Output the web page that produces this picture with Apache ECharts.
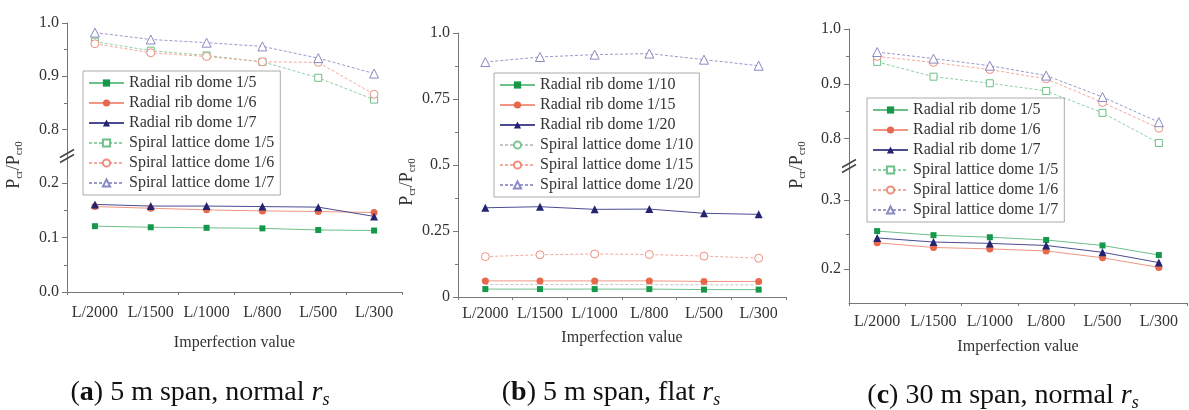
<!DOCTYPE html>
<html>
<head>
<meta charset="utf-8">
<script src="https://cdn.jsdelivr.net/npm/echarts@6/dist/echarts.min.js"></script>
<style>
  html, body { margin: 0; padding: 0; background: #fff; }
  #main { width: 1189px; height: 410px; }
</style>
</head>
<body>
<div id="main"></div>
<script>
var FONT = '"Liberation Serif", "Times New Roman", serif'

var cats = ['L/2000', 'L/1500', 'L/1000', 'L/800', 'L/500', 'L/300']

// (a) 5 m span, normal rs
var aRadial5 = [0.121, 0.119, 0.118, 0.117, 0.114, 0.113]
var aRadial6 = [0.157, 0.154, 0.151, 0.149, 0.148, 0.146]
var aRadial7 = [0.161, 0.158, 0.158, 0.157, 0.156, 0.139]
var aSpiral5 = [0.965, 0.948, 0.939, 0.927, 0.897, 0.856]
var aSpiral6 = [0.961, 0.944, 0.937, 0.927, 0.926, 0.866]
var aSpiral7 = [0.982, 0.969, 0.963, 0.956, 0.934, 0.905]

// (b) 5 m span, flat rs
var bRadial10 = [0.030, 0.030, 0.030, 0.030, 0.028, 0.028]
var bRadial15 = [0.061, 0.061, 0.061, 0.061, 0.059, 0.059]
var bRadial20 = [0.338, 0.342, 0.332, 0.333, 0.317, 0.313]
var bSpiral10 = [0.047, 0.047, 0.047, 0.047, 0.046, 0.046]
var bSpiral15 = [0.153, 0.160, 0.163, 0.161, 0.155, 0.147]
var bSpiral20 = [0.890, 0.909, 0.918, 0.922, 0.899, 0.876]

// (c) 30 m span, normal rs
var cRadial5 = [0.255, 0.249, 0.246, 0.242, 0.234, 0.220]
var cRadial6 = [0.238, 0.231, 0.229, 0.226, 0.216, 0.202]
var cRadial7 = [0.245, 0.239, 0.237, 0.234, 0.224, 0.209]
var cSpiral5 = [0.940, 0.913, 0.901, 0.887, 0.847, 0.792]
var cSpiral6 = [0.950, 0.939, 0.926, 0.909, 0.866, 0.819]
var cSpiral7 = [0.958, 0.946, 0.933, 0.915, 0.876, 0.830]

// tick values (major / minor)
var aTopTicks = [0.8, 0.9, 1.0]
var aTopMinor = [0.85, 0.95]
var aBotTicks = [0, 0.1, 0.2]
var aBotMinor = [0.05, 0.15]
var bTicks = [0, 0.25, 0.5, 0.75, 1]
var bMinor = [0.125, 0.375, 0.625, 0.875]
var cTopTicks = [0.8, 0.9, 1.0]
var cTopMinor = [0.85, 0.95]
var cBotTicks = [0.2, 0.3]
var cBotMinor = [0.25]

var AXIS = '#777'
var TXT = '#333'

// marker / line looks (hollow = white fill with thin coloured edge)
var looks = {
  r1: { symbol: 'rect', size: 6, color: '#16984a', line: '#6cc08a', type: 'solid' },
  r2: { symbol: 'circle', size: 7, color: '#e8684c', line: '#f09682', type: 'solid' },
  r3: { symbol: 'triangle', size: 8, color: '#232370', line: '#4b4b92', type: 'solid' },
  s1: { symbol: 'rect', size: 7, color: '#6cbf88', line: '#8fd0a5', type: [3, 2], hollow: true },
  s2: { symbol: 'circle', size: 8, color: '#ee8f7e', line: '#f4aa9c', type: [3, 2], hollow: true },
  s3: { symbol: 'triangle', size: 9, color: '#8a8ac2', line: '#9a9acb', type: [3, 2], hollow: true }
}
var looksB = {
  r1: looks.r1, r2: looks.r2, r3: looks.r3,
  s1: { symbol: 'circle', size: 7, color: '#7cc596', line: '#bfc9c1', type: [3, 2], hollow: true, hide: true },
  s2: looks.s2, s3: looks.s3
}

function line(name, data, xi, yi, lk) {
  var item = lk.hollow
    ? { color: '#fff', borderColor: lk.color, borderWidth: 1 }
    : { color: lk.color }
  return {
    name: name, type: 'line', data: data, xAxisIndex: xi, yAxisIndex: yi,
    symbol: lk.symbol, symbolSize: lk.size, showSymbol: !lk.hide,
    itemStyle: item,
    lineStyle: { color: lk.line, width: 1, type: lk.type },
    emphasis: { disabled: true }, animation: false
  }
}

function catAxis(gi, show, margin, gap) {
  return {
    type: 'category', gridIndex: gi, data: cats, boundaryGap: true, show: show,
    axisLine: { lineStyle: { color: AXIS } },
    axisTick: { alignWithLabel: true, length: 5, lineStyle: { color: AXIS } },
    axisLabel: { interval: 0, margin: margin, fontFamily: FONT, fontSize: 16, color: TXT },
    name: 'Imperfection value', nameLocation: 'middle', nameGap: gap,
    nameTextStyle: { fontFamily: FONT, fontSize: 16, color: TXT }
  }
}
function catMinor(gi) {
  return {
    type: 'category', gridIndex: gi, data: cats, boundaryGap: true, position: 'bottom', offset: 0,
    axisLine: { show: false }, axisLabel: { show: false },
    axisTick: { show: true, interval: 0, length: 3, lineStyle: { color: AXIS } }
  }
}
function valAxis(gi, min, max, ticks, fmt) {
  return {
    type: 'value', gridIndex: gi, min: min, max: max, position: 'left', offset: 0,
    axisLine: { show: true, lineStyle: { color: AXIS } },
    axisTick: { show: true, length: 5, customValues: ticks, lineStyle: { color: AXIS } },
    axisLabel: { customValues: ticks, formatter: fmt, margin: 8, fontFamily: FONT, fontSize: 16, color: TXT },
    splitLine: { show: false }
  }
}
function valMinor(gi, min, max, ticks) {
  return {
    type: 'value', gridIndex: gi, min: min, max: max, position: 'left', offset: 0,
    axisLine: { show: false }, axisLabel: { show: false }, splitLine: { show: false },
    axisTick: { show: true, length: 3, customValues: ticks, lineStyle: { color: AXIS } }
  }
}
var fmt1 = function (v) { return v.toFixed(1) }
var fmtB = function (v) { return v === 1 ? '1.0' : String(v) }

var grids = [
  { left: 67, top: 23, width: 335, height: 133 },   // a upper
  { left: 67, top: 156, width: 335, height: 136 },  // a lower
  { left: 458, top: 33, width: 328, height: 264 },  // b
  { left: 849, top: 29, width: 338, height: 137 },  // c upper
  { left: 849, top: 166, width: 338, height: 137 }  // c lower
]
grids.forEach(function (g) { g.containLabel = false; g.outerBoundsMode = 'none' })

var namesA = ['Radial rib dome 1/5', 'Radial rib dome 1/6', 'Radial rib dome 1/7',
  'Spiral lattice dome 1/5', 'Spiral lattice dome 1/6', 'Spiral lattice dome 1/7']
var namesB = ['Radial rib dome 1/10', 'Radial rib dome 1/15', 'Radial rib dome 1/20',
  'Spiral lattice dome 1/10', 'Spiral lattice dome 1/15', 'Spiral lattice dome 1/20']

var series = [
  line(namesA[0], aRadial5, 1, 2, looks.r1),
  line(namesA[1], aRadial6, 1, 2, looks.r2),
  line(namesA[2], aRadial7, 1, 2, looks.r3),
  line(namesA[3], aSpiral5, 0, 0, looks.s1),
  line(namesA[4], aSpiral6, 0, 0, looks.s2),
  line(namesA[5], aSpiral7, 0, 0, looks.s3),

  line(namesB[0], bRadial10, 3, 4, looksB.r1),
  line(namesB[1], bRadial15, 3, 4, looksB.r2),
  line(namesB[2], bRadial20, 3, 4, looksB.r3),
  line(namesB[3], bSpiral10, 3, 4, looksB.s1),
  line(namesB[4], bSpiral15, 3, 4, looksB.s2),
  line(namesB[5], bSpiral20, 3, 4, looksB.s3),

  line(namesA[0], cRadial5, 6, 8, looks.r1),
  line(namesA[1], cRadial6, 6, 8, looks.r2),
  line(namesA[2], cRadial7, 6, 8, looks.r3),
  line(namesA[3], cSpiral5, 5, 6, looks.s1),
  line(namesA[4], cSpiral6, 5, 6, looks.s2),
  line(namesA[5], cSpiral7, 5, 6, looks.s3)
]

function legendAt(names, left, top) {
  return {
    data: names, left: left, top: top, orient: 'vertical',
    itemWidth: 35, itemHeight: 9, itemGap: 4, padding: [4, 6, 4, 5],
    borderColor: '#aaa', borderWidth: 1, selectedMode: false,
    textStyle: { fontFamily: FONT, fontSize: 16, lineHeight: 16, color: TXT }
  }
}

// y-axis titles and captions
function yTitle(x, y) {
  return {
    type: 'text', x: x, y: y, rotation: Math.PI / 2,
    style: {
      text: '{p|P}{s|cr}{p|/P}{s|cr0}', align: 'center', verticalAlign: 'middle',
      rich: {
        p: { fontFamily: FONT, fontSize: 18, lineHeight: 22, fill: TXT },
        s: { fontFamily: FONT, fontSize: 11, lineHeight: 11, verticalAlign: 'bottom', fill: TXT }
      }
    }
  }
}
function caption(x, y, letter, body) {
  var base = { fontFamily: FONT, fontSize: 28, lineHeight: 32, fill: '#111' }
  return {
    type: 'text', x: x, y: y,
    style: {
      text: '{n|(}{b|' + letter + '}{n|) ' + body + ' }{i|r}{u|s}', align: 'center', verticalAlign: 'middle',
      rich: {
        n: base,
        b: Object.assign({}, base, { fontWeight: 'bold' }),
        i: Object.assign({}, base, { fontStyle: 'italic' }),
        u: { fontFamily: FONT, fontSize: 18, lineHeight: 24, fontStyle: 'italic', verticalAlign: 'bottom', fill: '#111' }
      }
    }
  }
}
// break mark "//" on a broken axis, placed at the join of two grids
function breakMark(g) {
  var x = g.left, y = g.top
  return [-2.5, 2.5].map(function (d) {
    return {
      type: 'line', shape: { x1: x - 7, y1: y + d + 4, x2: x + 7, y2: y + d - 4 },
      style: { stroke: '#444', lineWidth: 1.5 }, z: 100
    }
  })
}

var option = {
  backgroundColor: '#fff',
  animation: false,
  grid: grids,
  xAxis: [
    catAxis(0, false, 13, 43),
    catAxis(1, true, 13, 43), catMinor(1),
    catAxis(2, true, 9, 33), catMinor(2),
    catAxis(3, false, 11, 36),
    catAxis(4, true, 11, 36), catMinor(4)
  ],
  yAxis: [
    valAxis(0, 0.75, 1.0, aTopTicks, fmt1), valMinor(0, 0.75, 1.0, aTopMinor),
    valAxis(1, 0, 0.25, aBotTicks, fmt1), valMinor(1, 0, 0.25, aBotMinor),
    valAxis(2, 0, 1, bTicks, fmtB), valMinor(2, 0, 1, bMinor),
    valAxis(3, 0.75, 1.0, cTopTicks, fmt1), valMinor(3, 0.75, 1.0, cTopMinor),
    valAxis(4, 0.15, 0.35, cBotTicks, fmt1), valMinor(4, 0.15, 0.35, cBotMinor)
  ],
  legend: [
    legendAt(namesA, 83, 71),
    legendAt(namesB, 494, 73),
    legendAt(namesA, 867, 98)
  ],
  series: series,
  graphic: [
    yTitle(14, 165), yTitle(407, 182), yTitle(797, 165),
    caption(200, 393, 'a', '5 m span, normal'),
    caption(611, 393, 'b', '5 m span, flat'),
    caption(1003, 396, 'c', '30 m span, normal')
  ].concat(breakMark(grids[1]), breakMark(grids[4]))
}

var myChart = echarts.init(document.getElementById('main'))
myChart.setOption(option)
</script>
</body>
</html>
